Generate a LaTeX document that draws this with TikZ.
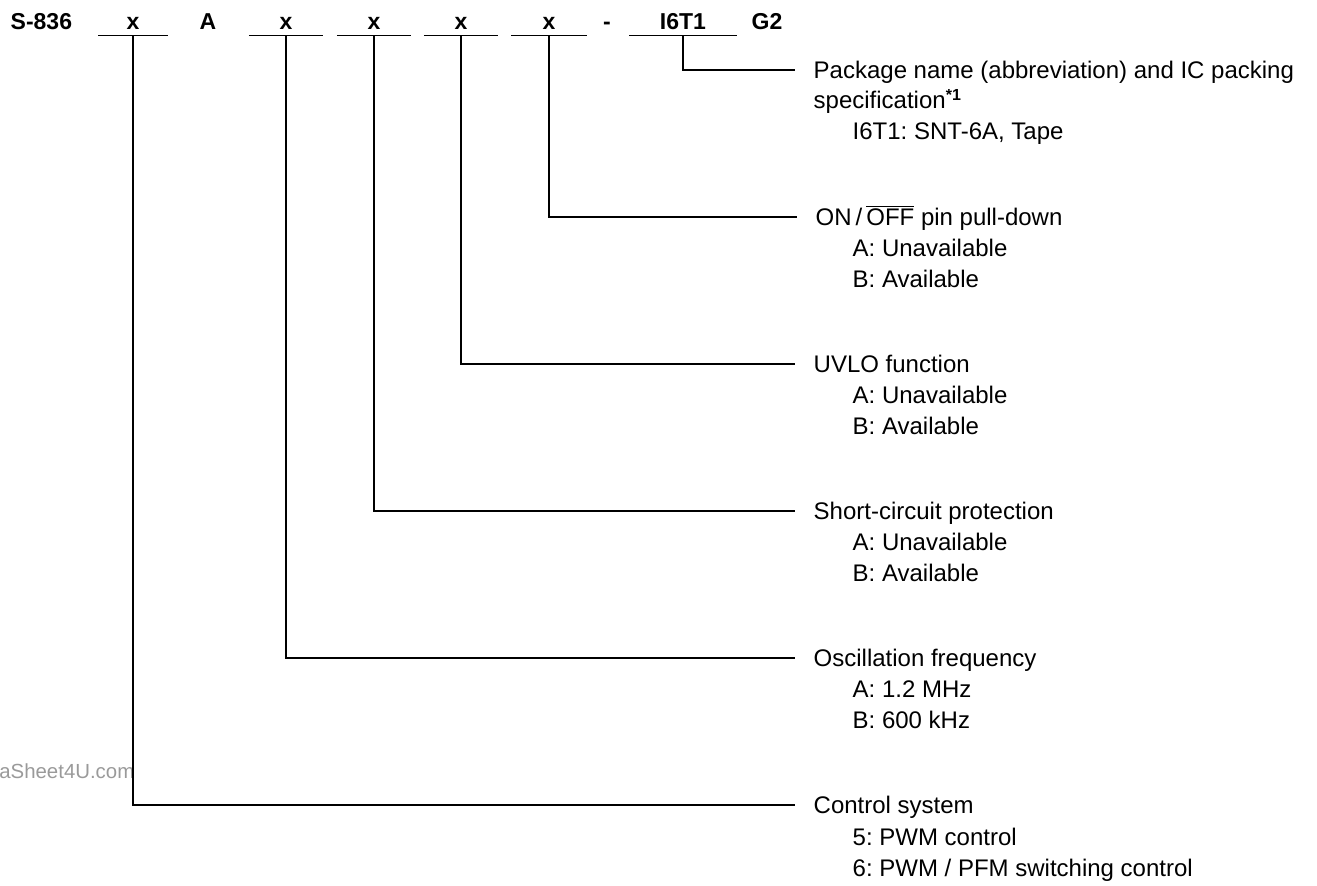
\documentclass[tikz,border=0pt]{standalone}
\usepackage{fontspec}
\setmainfont{Liberation Sans}
\definecolor{markgray}{HTML}{9A9A9A}
\frenchspacing
\begin{document}
\begin{tikzpicture}[x=0.5pt,y=-0.5pt,line width=0.7pt,
    font=\fontsize{12pt}{15pt}\selectfont,
    code/.style={font=\fontsize{11.5pt}{14pt}\selectfont\bfseries,anchor=base,inner sep=0pt},
    field/.style={font=\fontsize{11.5pt}{14pt}\selectfont\bfseries,anchor=south,inner xsep=0pt,inner ysep=2.75pt,text depth=0pt},
    title/.style={anchor=west,inner xsep=9pt,inner ysep=0pt,text height=8.6pt,text depth=0pt},
    opt/.style={anchor=base west,inner sep=0pt}]
    \useasboundingbox (0,0) rectangle (1317,886);
    %% Product code
    \node[code,anchor=base west] (name) at (10,30) {S-836};
    \node[field,minimum width=34pt] (fctl) at (133,35.5) {x};
    \node[code] (fixA) at (208,30) {A};
    \node[field,minimum width=36.5pt] (fosc) at (286,35.5) {x};
    \node[field,minimum width=36.5pt] (fscp) at (374,35.5) {x};
    \node[field,minimum width=36.5pt] (fuvlo) at (461,35.5) {x};
    \node[field,minimum width=37pt] (fpin) at (549,35.5) {x};
    \node[code] (dash) at (607,30) {-};
    \node[field,minimum width=53pt] (fpkg) at (683,35.5) {I6T1};
    \node[code] (env) at (767,30) {G2};
    %% Underlines
    \foreach \f in {fctl,fosc,fscp,fuvlo,fpin,fpkg}
        \draw (\f.south west) -- (\f.south east);
    %% Package
    \node[title] (pkg) at (795,70) {Package name (abbreviation) and IC packing};
    \node[opt] (pkg-b) at (813,109) {specification\textsuperscript{\textbf{*1}}};
    \node[opt] (pkg-a) at (852,140) {I6T1: SNT-6A, Tape};
    %% ON/OFF pin
    \node[title] (pin) at (797,217) {ON\,/\,$\overline{\mbox{OFF}}$ pin pull-down};
    \node[opt] (pin-a) at (852,257) {A: Unavailable};
    \node[opt] (pin-b) at (852,288) {B: Available};
    %% UVLO
    \node[title] (uvlo) at (795,364) {UVLO function};
    \node[opt] (uvlo-a) at (852,404) {A: Unavailable};
    \node[opt] (uvlo-b) at (852,435) {B: Available};
    %% Short-circuit protection
    \node[title] (scp) at (795,511) {Short-circuit protection};
    \node[opt] (scp-a) at (852,551) {A: Unavailable};
    \node[opt] (scp-b) at (852,582) {B: Available};
    %% Oscillation frequency
    \node[title] (osc) at (795,658) {Oscillation frequency};
    \node[opt] (osc-a) at (852,698) {A: 1.2 MHz};
    \node[opt] (osc-b) at (852,729) {B: 600 kHz};
    %% Control system
    \node[title] (ctl) at (795,805) {Control system};
    \node[opt] (ctl-a) at (852,845) {5: PWM control};
    \node[opt] (ctl-b) at (852,876) {6: PWM / PFM switching control};
    %% Watermark
    \node[opt,anchor=base east,text=markgray,font=\fontsize{10.2pt}{12pt}\selectfont] (mark) at (135,778) {aSheet4U.com};
    %% Leaders
    \draw (fpkg.south) |- (pkg.west);
    \draw (fpin.south) |- (pin.west);
    \draw (fuvlo.south) |- (uvlo.west);
    \draw (fscp.south) |- (scp.west);
    \draw (fosc.south) |- (osc.west);
    \draw (fctl.south) |- (ctl.west);
\end{tikzpicture}
\end{document}
